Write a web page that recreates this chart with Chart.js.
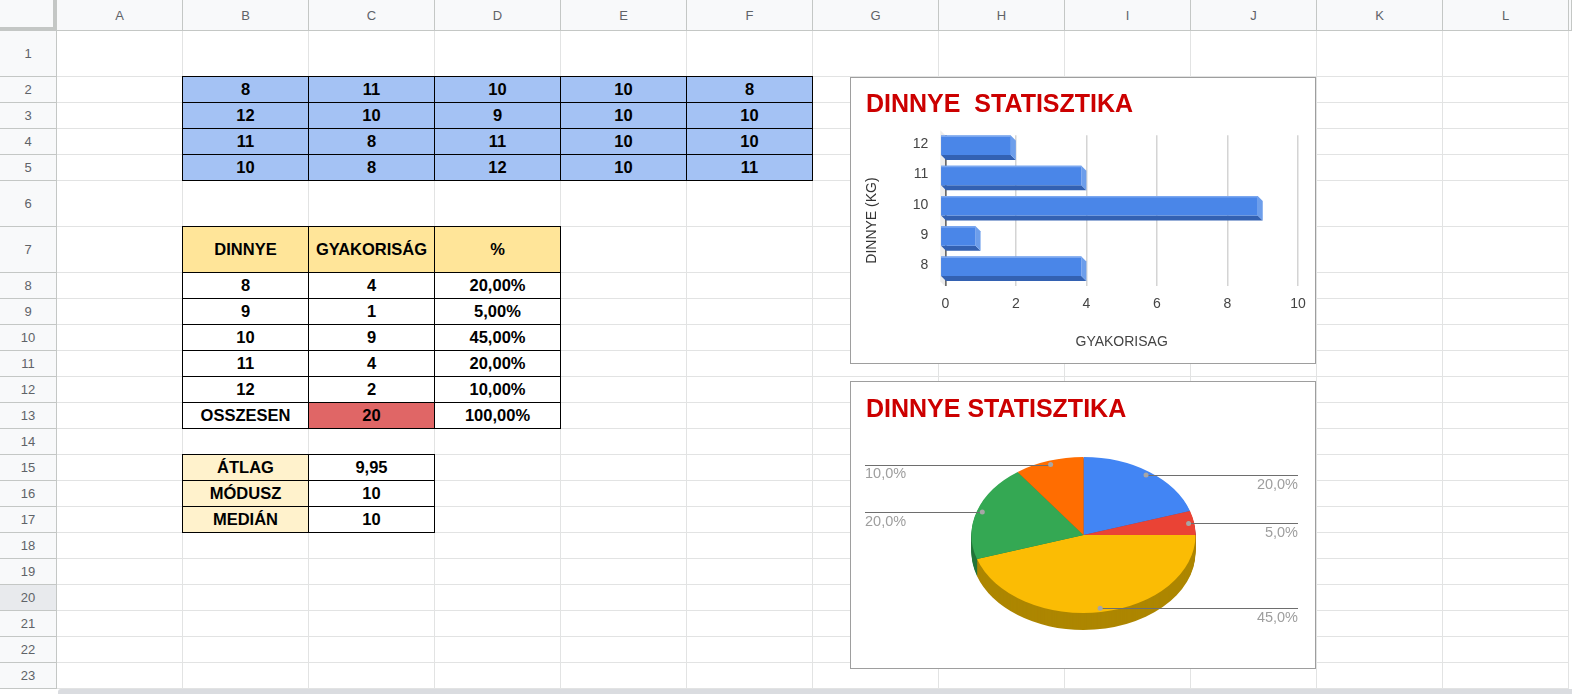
<!DOCTYPE html>
<html lang="hu">
<head>
<meta charset="utf-8">
<title>Dinnye statisztika</title>
<script src="https://cdn.jsdelivr.net/npm/chart.js@4.4.1/dist/chart.umd.min.js"></script>
<style>
  html, body { margin: 0; padding: 0; background: #fff; overflow: hidden; }
  body { width: 1572px; height: 694px; position: relative; font-family: Arial, "Liberation Sans", sans-serif; }
  #sheet { position: absolute; left: 0; top: 0; width: 1572px; height: 694px; }
  .cell { position: absolute; box-sizing: border-box; border-right: 1px solid #e2e3e3; border-bottom: 1px solid #e2e3e3; }
  .head { position: absolute; box-sizing: border-box; background: #f8f9fa; color: #5f6368; font-size: 13px;
          display: flex; align-items: center; justify-content: center;
          border-right: 1px solid #c4c7c5; border-bottom: 1px solid #c4c7c5; }
  .corner { border-right: 4px solid #c4c7c5; border-bottom: 4px solid #c4c7c5; }
  .data { position: absolute; box-sizing: border-box; border: 1px solid #000; font-weight: bold; font-size: 16.5px;
          color: #000; display: flex; align-items: center; justify-content: center; }
  .chart-box { position: absolute; box-sizing: border-box; border: 1px solid #9e9e9e; background: #fff; }
  .chart-wrap { position: absolute; left: 0; top: 0; right: 0; bottom: 0; }
  .chart-title { position: absolute; left: 15px; z-index: 2; font: bold 25px Arial, "Liberation Sans", sans-serif;
                 color: #cc0000; line-height: 1; white-space: pre; }
  #scrollbar { position: absolute; left: 58px; top: 689px; width: 1514px; height: 5px; background: #dadce0; border-radius: 3px 0 0 0; }
</style>
</head>
<body>
<div id="sheet"></div>

<div class="chart-box" style="left:850px;top:77px;width:466px;height:287px;">
  <div class="chart-title" style="top:12.5px;">DINNYE  STATISZTIKA</div>
  <div class="chart-wrap"><canvas id="barChart"></canvas></div>
</div>

<div class="chart-box" style="left:850px;top:381px;width:466px;height:288px;">
  <div class="chart-title" style="top:13.8px;">DINNYE STATISZTIKA</div>
  <div class="chart-wrap"><canvas id="pieChart"></canvas></div>
</div>

<div id="scrollbar"></div>

<script>
// adatok
const rawValues = [
  [8, 11, 10, 10, 8],
  [12, 10, 9, 10, 10],
  [11, 8, 11, 10, 10],
  [10, 8, 12, 10, 11]
];
const weights = [8, 9, 10, 11, 12];
const frequency = [4, 1, 9, 4, 2];
const freqTicks = [0, 2, 4, 6, 8, 10];
const statLabels = ["ÁTLAG", "MÓDUSZ", "MEDIÁN"];
const statValues = ["9,95", "10", "10"];

// tablazat racs
const colLetters = ["A", "B", "C", "D", "E", "F", "G", "H", "I", "J", "K", "L"];
const colW = 126;
const rowHeights = [46, 26, 26, 26, 26, 46, 46].concat(Array(16).fill(26));
const headW = 57, headH = 31;

const sheet = document.getElementById("sheet");
const colX = colLetters.map((_, i) => headW + i * colW);
const rowY = [];
let yy = headH;
rowHeights.forEach((h) => { rowY.push(yy); yy += h; });

function box(cls, left, top, w, h, text) {
  const d = document.createElement("div");
  d.className = cls;
  d.style.left = left + "px";
  d.style.top = top + "px";
  d.style.width = w + "px";
  d.style.height = h + "px";
  if (text !== undefined) d.textContent = text;
  sheet.appendChild(d);
  return d;
}

rowHeights.forEach((h, r) => {
  colX.forEach((x) => box("cell", x, rowY[r], colW, h));
});
box("head corner", 0, 0, headW, headH);
colLetters.forEach((c, i) => box("head", colX[i], 0, colW, headH, c));
box("head", colX[colX.length - 1] + colW, 0, 1572 - colX[colX.length - 1] - colW, headH);
rowHeights.forEach((h, r) => {
  const d = box("head", 0, rowY[r], headW, h, r + 1);
  if (r + 1 === 20) d.style.background = "#e8eaed";
});

function put(col, row, text, bg) {
  const d = box("data", colX[col] - 1, rowY[row - 1] - 1, colW + 1, rowHeights[row - 1] + 1, text);
  d.style.background = bg || "#fff";
  return d;
}

const fmtPct = (v, digits) => (v * 100).toFixed(digits).replace(".", ",") + "%";
const total = frequency.reduce((a, b) => a + b, 0);

rawValues.forEach((row, r) => {
  row.forEach((v, c) => put(c + 1, r + 2, v, "#a4c2f4"));
});

put(1, 7, "DINNYE", "#ffe599");
put(2, 7, "GYAKORISÁG", "#ffe599");
put(3, 7, "%", "#ffe599");
weights.forEach((w, i) => {
  put(1, 8 + i, w);
  put(2, 8 + i, frequency[i]);
  put(3, 8 + i, fmtPct(frequency[i] / total, 2));
});
put(1, 13, "OSSZESEN");
put(2, 13, total, "#e06666");
put(3, 13, fmtPct(1, 2));

statLabels.forEach((s, i) => {
  put(1, 15 + i, s, "#fff2cc");
  put(2, 15 + i, statValues[i]);
});

// diagramok
Chart.defaults.font.family = 'Arial, "Liberation Sans", sans-serif';

const BAR_DEPTH = 5;
const bar3d = {
  id: "bar3d",
  beforeDatasetsDraw(chart) {
    const { ctx, chartArea: a } = chart;
    ctx.save();
    ctx.fillStyle = "#ececec";
    ctx.beginPath();
    ctx.moveTo(a.left, a.top);
    ctx.lineTo(a.left, a.bottom);
    ctx.lineTo(a.left - BAR_DEPTH, a.bottom - BAR_DEPTH);
    ctx.lineTo(a.left - BAR_DEPTH, a.top - BAR_DEPTH);
    ctx.closePath();
    ctx.fill();
    ctx.restore();
  },
  beforeDatasetDraw(chart, args) {
    const ctx = chart.ctx;
    const d = BAR_DEPTH;
    args.meta.data.forEach((bar) => {
      const { x, y, base, height } = bar.getProps(["x", "y", "base", "height"], true);
      const t = y - height / 2 - d, b = y + height / 2 - d;
      const l = base - d, r = x - d;
      ctx.save();
      ctx.fillStyle = "#3361b2";
      ctx.beginPath();
      ctx.moveTo(l, b);
      ctx.lineTo(r, b);
      ctx.lineTo(r + d, b + d);
      ctx.lineTo(l + d, b + d);
      ctx.closePath();
      ctx.fill();
      ctx.fillStyle = "#6d9eeb";
      ctx.beginPath();
      ctx.moveTo(r, t);
      ctx.lineTo(r + d, t + d);
      ctx.lineTo(r + d, b + d);
      ctx.lineTo(r, b);
      ctx.closePath();
      ctx.fill();
      ctx.restore();
    });
    // elolap eltolva
    ctx.save();
    ctx.translate(-d, -d);
  },
  afterDatasetDraw(chart, args) {
    const ctx = chart.ctx;
    args.meta.data.forEach((bar) => {
      const { x, y, base, height } = bar.getProps(["x", "y", "base", "height"], true);
      ctx.fillStyle = "#7ba7ef";
      ctx.fillRect(base, y - height / 2, x - base, 1.5);
    });
    ctx.restore();
  }
};

new Chart(document.getElementById("barChart"), {
  type: "bar",
  data: {
    labels: weights,
    datasets: [
      {
        data: frequency,
        backgroundColor: "#4a86e8",
        borderWidth: 0,
        barPercentage: 0.72,
        categoryPercentage: 0.9,
        clip: false
      }
    ]
  },
  options: {
    indexAxis: "y",
    responsive: true,
    maintainAspectRatio: false,
    animation: false,
    events: [],
    layout: { padding: { top: 57.2, right: 13.7, left: 0, bottom: 0 } },
    plugins: { legend: { display: false }, tooltip: { enabled: false } },
    scales: {
      x: {
        min: freqTicks[0],
        max: freqTicks[freqTicks.length - 1],
        afterBuildTicks: (s) => { s.ticks = freqTicks.map((v) => ({ value: v })); },
        afterFit: (s) => { s.height = 76.6; },
        grid: {
          color: (c) => (c.tick && c.tick.value === 0 ? "#333" : "#d4d4d4"),
          lineWidth: 1.5,
          drawTicks: false
        },
        border: { display: false },
        ticks: { padding: 9.2, color: "#444", font: { size: 14 } },
        title: {
          display: true,
          text: "GYAKORISAG",
          color: "#444",
          font: { size: 14 },
          padding: { top: 0, bottom: 12.9 }
        }
      },
      y: {
        reverse: true,
        afterFit: (s) => { s.width = 94.3; },
        grid: { display: false, drawTicks: false },
        border: { display: false },
        ticks: { padding: 17, labelOffset: -6, color: "#444", font: { size: 14 } },
        title: {
          display: true,
          text: "DINNYE (KG)     ",
          color: "#333",
          font: { size: 14 },
          padding: { top: 12.6, bottom: 0 }
        }
      }
    }
  },
  plugins: [bar3d]
});

const sliceColors = ["#4285f4", "#ea4335", "#fbbc04", "#34a853", "#ff6d01"];
const sideColors = ["#2d5cae", "#a32f25", "#ad8600", "#23753a", "#b34c00"];
const TILT = 0.696;
const PIE_DEPTH = 17;

function tilt(ctx, cx, cy) {
  ctx.translate(cx, cy);
  ctx.scale(1, TILT);
  ctx.translate(-cx, -cy);
}

const pie3d = {
  id: "pie3d",
  beforeDatasetDraw(chart, args) {
    const ctx = chart.ctx;
    const arcs = args.meta.data;
    const cx = arcs[0].x, cy = arcs[0].y;
    for (let d = PIE_DEPTH; d > 0; d--) {
      ctx.save();
      ctx.translate(0, d);
      tilt(ctx, cx, cy);
      arcs.forEach((arc, i) => {
        ctx.fillStyle = sideColors[i];
        ctx.beginPath();
        ctx.moveTo(arc.x, arc.y);
        ctx.arc(arc.x, arc.y, arc.outerRadius, arc.startAngle, arc.endAngle);
        ctx.closePath();
        ctx.fill();
      });
      ctx.restore();
    }
    ctx.save();
    tilt(ctx, cx, cy);
  },
  afterDatasetDraw(chart) {
    chart.ctx.restore();
  },
  afterDatasetsDraw(chart) {
    const ctx = chart.ctx;
    const w = chart.width;
    const values = chart.data.datasets[0].data;
    const sum = values.reduce((a, b) => a + b, 0);
    ctx.save();
    ctx.font = '14.5px Arial, "Liberation Sans", sans-serif';
    ctx.textBaseline = "middle";
    chart.getDatasetMeta(0).data.forEach((arc, i) => {
      const mid = (arc.startAngle + arc.endAngle) / 2;
      const r = arc.outerRadius * 0.95;
      const px = arc.x + Math.cos(mid) * r;
      const py = arc.y + Math.sin(mid) * r * TILT;
      const right = Math.cos(mid) >= 0;
      const edge = right ? w - 17 : 14;
      ctx.strokeStyle = "#6e6e6e";
      ctx.lineWidth = 1;
      ctx.beginPath();
      ctx.moveTo(px, Math.round(py) + 0.5);
      ctx.lineTo(edge, Math.round(py) + 0.5);
      ctx.stroke();
      ctx.fillStyle = "#a6a6a6";
      ctx.beginPath();
      ctx.arc(px, py, 2.5, 0, Math.PI * 2);
      ctx.fill();
      ctx.fillStyle = "#9e9e9e";
      ctx.textAlign = right ? "right" : "left";
      ctx.fillText(fmtPct(values[i] / sum, 1), edge, py + 9.5);
    });
    ctx.restore();
  }
};

new Chart(document.getElementById("pieChart"), {
  type: "pie",
  data: {
    labels: weights,
    datasets: [
      {
        data: frequency,
        backgroundColor: sliceColors,
        borderWidth: 0,
        radius: 112,
        clip: false
      }
    ]
  },
  options: {
    responsive: true,
    maintainAspectRatio: false,
    animation: false,
    events: [],
    layout: { padding: { left: 112.5, top: 33, right: 111.5, bottom: 13 } },
    plugins: { legend: { display: false }, tooltip: { enabled: false } }
  },
  plugins: [pie3d]
});
</script>
</body>
</html>
